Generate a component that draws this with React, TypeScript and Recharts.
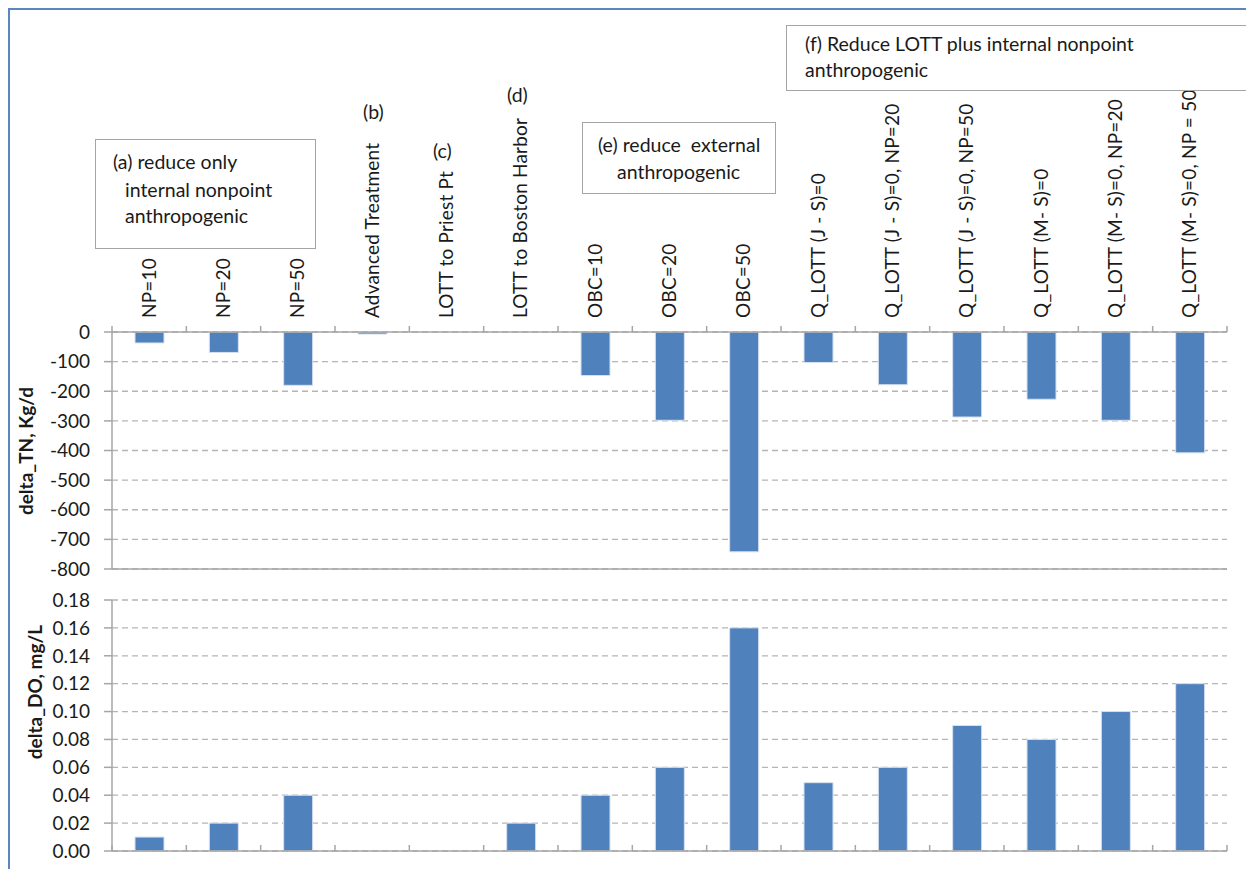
import React from "react";
import { BarChart, Bar, XAxis, YAxis, CartesianGrid } from "recharts";

const categories = [
  "NP=10",
  "NP=20",
  "NP=50",
  "Advanced Treatment",
  "LOTT to Priest Pt",
  "LOTT to Boston Harbor",
  "OBC=10",
  "OBC=20",
  "OBC=50",
  "Q_LOTT (J - S)=0",
  "Q_LOTT (J - S)=0, NP=20",
  "Q_LOTT (J - S)=0, NP=50",
  "Q_LOTT (M- S)=0",
  "Q_LOTT (M- S)=0, NP=20",
  "Q_LOTT (M- S)=0, NP = 50",
];
const deltaTN = [-37, -69, -180, -7, 0, 0, -147, -298, -742, -103, -178, -287, -227, -298, -408];
const deltaDO = [0.01, 0.02, 0.04, 0, 0, 0.02, 0.04, 0.06, 0.16, 0.049, 0.06, 0.09, 0.08, 0.1, 0.12];
const tnTicks = [0, -100, -200, -300, -400, -500, -600, -700, -800];
const doTicks = [0, 0.02, 0.04, 0.06, 0.08, 0.1, 0.12, 0.14, 0.16, 0.18];

const W = 1246;
const PLOT_LEFT = 104;
const PLOT_RIGHT = 1219;
const BAND = (PLOT_RIGHT - PLOT_LEFT) / categories.length;
const FONT = "Lato, 'Open Sans', sans-serif";
const BLUE = "#4f81bd";
const AXIS = "#a6a6a6";
const GRID = "#b5b5b5";
const TXT = "#1a1a1a";

const data = categories.map((c, i) => ({ name: c, tn: deltaTN[i], do: deltaDO[i] }));

const TopTick = (props: any) => {
  const { x, index, payload } = props;
  const axisY = 324;
  const ly = 310;
  return (
    <g>
      <line x1={x - BAND / 2} x2={x - BAND / 2} y1={axisY} y2={axisY - 6} stroke={AXIS} strokeWidth={1.5} />
      {index === categories.length - 1 && (
        <line x1={x + BAND / 2} x2={x + BAND / 2} y1={axisY} y2={axisY - 6} stroke={AXIS} strokeWidth={1.5} />
      )}
      <text
        x={x}
        y={ly}
        transform={`rotate(-90, ${x}, ${ly})`}
        textAnchor="start"
        dy="0.35em"
        fontSize={19}
        letterSpacing={0.2}
        fontFamily={FONT}
        fill={TXT}
      >
        {payload.value}
      </text>
    </g>
  );
};

const BottomTick = (props: any) => {
  const { x, index } = props;
  const axisY = 263;
  return (
    <g>
      <line x1={x - BAND / 2} x2={x - BAND / 2} y1={axisY} y2={axisY - 6} stroke={AXIS} strokeWidth={1.5} />
      {index === categories.length - 1 && (
        <line x1={x + BAND / 2} x2={x + BAND / 2} y1={axisY} y2={axisY - 6} stroke={AXIS} strokeWidth={1.5} />
      )}
    </g>
  );
};

const tickStyle = { fill: TXT, fontSize: 19, fontFamily: FONT };

const boxStyle: React.CSSProperties = {
  position: "absolute",
  border: "1.5px solid #a5a5a5",
  background: "#fff",
  boxSizing: "border-box",
};

// text line placed by its left edge and vertical centre, page coordinates
const note = (left: number, centre: number, text: string) => (
  <div
    style={{
      position: "absolute",
      left: left - 8,
      top: centre - 8 - 12,
      lineHeight: "24px",
      fontSize: 19.5,
      fontFamily: FONT,
      color: TXT,
      whiteSpace: "pre",
    }}
  >
    {text}
  </div>
);

export default function App() {
  return (
    <div style={{ position: "relative", width: W, height: 861, background: "#fff", fontFamily: FONT }}>
      <div style={{ position: "absolute", left: 0, top: 0, width: W, height: 861, borderLeft: "2px solid #5a86c0", borderTop: "2px solid #5a86c0", boxSizing: "border-box" }} />

      <div style={{ position: "absolute", left: 0, top: 0 }}>
        <BarChart width={W} height={600} data={data} margin={{ top: 0, right: 27, bottom: 38, left: 44 }}>
          <CartesianGrid horizontal vertical={false} stroke={GRID} strokeDasharray="6 4" strokeWidth={1.3} />
          <XAxis dataKey="name" orientation="top" height={324} axisLine={{ stroke: AXIS, strokeWidth: 1.5 }} tickLine={false} tick={<TopTick />} interval={0} />
          <XAxis xAxisId="b" dataKey="name" orientation="bottom" height={1} axisLine={{ stroke: AXIS, strokeWidth: 1.5 }} tickLine={false} tick={false} />
          <YAxis
            domain={[-800, 0]}
            ticks={tnTicks}
            width={60}
            tick={tickStyle}
            tickSize={8}
            tickMargin={14}
            axisLine={{ stroke: AXIS, strokeWidth: 1.5 }}
            tickLine={{ stroke: AXIS, strokeWidth: 1.5 }}
            allowDataOverflow
          />
          <YAxis yAxisId="r" orientation="right" width={0} domain={[-800, 0]} tick={false} tickLine={false} axisLine={{ stroke: AXIS, strokeWidth: 1.5 }} />
          <Bar dataKey="tn" fill={BLUE} stroke="#d6e1ef" strokeWidth={1} barSize={29} isAnimationActive={false} />
        </BarChart>
      </div>

      <div style={{ position: "absolute", left: 0, top: 580 }}>
        <BarChart width={W} height={281} data={data} margin={{ top: 12, right: 27, bottom: 8, left: 44 }}>
          <CartesianGrid horizontal vertical={false} stroke={GRID} strokeDasharray="6 4" strokeWidth={1.3} />
          <XAxis dataKey="name" orientation="bottom" height={10} axisLine={{ stroke: AXIS, strokeWidth: 1.5 }} tickLine={false} tick={<BottomTick />} interval={0} />
          <XAxis xAxisId="t" dataKey="name" orientation="top" height={0} axisLine={{ stroke: "#cfcfcf", strokeWidth: 1 }} tickLine={false} tick={false} />
          <YAxis
            domain={[0, 0.18]}
            ticks={doTicks}
            width={60}
            tick={tickStyle}
            tickSize={8}
            tickMargin={14}
            tickFormatter={(v: number) => v.toFixed(2)}
            axisLine={{ stroke: AXIS, strokeWidth: 1.5 }}
            tickLine={{ stroke: AXIS, strokeWidth: 1.5 }}
          />
          <YAxis yAxisId="r" orientation="right" width={0} domain={[0, 0.18]} tick={false} tickLine={false} axisLine={{ stroke: AXIS, strokeWidth: 1.5 }} />
          <Bar dataKey="do" fill={BLUE} stroke="#d6e1ef" strokeWidth={1} barSize={29} isAnimationActive={false} />
        </BarChart>
      </div>

      <svg style={{ position: "absolute", left: 0, top: 0, pointerEvents: "none" }} width={80} height={861}>
        <text x={18} y={443} transform="rotate(-90, 18, 443)" textAnchor="middle" dy="0.35em" fontSize={19} fontWeight="bold" fontFamily={FONT} fill={TXT}>
          delta_TN, Kg/d
        </text>
        <text x={27} y={684} transform="rotate(-90, 27, 684)" textAnchor="middle" dy="0.35em" fontSize={19} fontWeight="bold" fontFamily={FONT} fill={TXT}>
          delta_DO, mg/L
        </text>
      </svg>

      <div style={{ ...boxStyle, left: 87, top: 131, width: 221, height: 110 }} />
      {note(113, 162, "(a) reduce only")}
      {note(125, 190, "internal nonpoint")}
      {note(125, 216, "anthropogenic")}

      {note(363, 112, "(b)")}
      {note(433, 151, "(c)")}
      {note(507, 95, "(d)")}

      <div style={{ ...boxStyle, left: 574, top: 114, width: 194, height: 72 }} />
      {note(598, 145, "(e) reduce  external")}
      {note(617, 172, "anthropogenic")}

      <div style={{ ...boxStyle, left: 778, top: 17, width: 464, height: 66 }} />
      {note(805, 44, "(f) Reduce LOTT plus internal nonpoint")}
      {note(805, 70, "anthropogenic")}
    </div>
  );
}
